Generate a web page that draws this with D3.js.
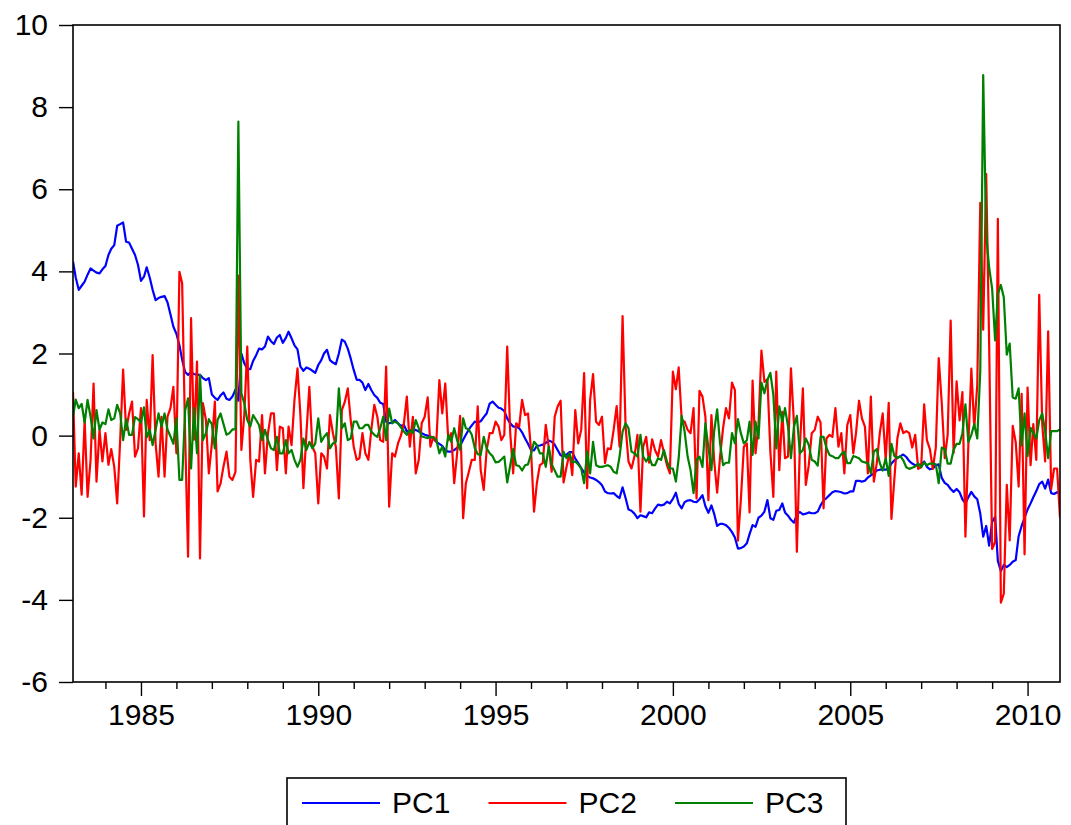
<!DOCTYPE html>
<html>
<head>
<meta charset="utf-8">
<script src="https://cdn.jsdelivr.net/npm/d3@7"></script>
<style>
  html, body { margin: 0; padding: 0; background: #fff; }
  svg { display: block; font-family: "Liberation Sans", Arial, sans-serif; }
</style>
</head>
<body>
<div id="chart"></div>
<script>
// monthly observations, 1983M02 .. 2010M12
const startMonth = new Date(1983, 1, 1);

const seriesNames = ["PC1", "PC2", "PC3"];
const seriesColors = ["#0000ff", "#ff0000", "#008000"];

const yTicks = [-6, -4, -2, 0, 2, 4, 6, 8, 10];
const yearLabels = [1985, 1990, 1995, 2000, 2005, 2010];

const pc1 = [
  4.24, 3.85, 3.55, 3.65, 3.75, 3.92, 4.07, 4.02, 3.97, 3.95,
  4.05, 4.13, 4.40, 4.55, 4.64, 5.11, 5.15, 5.19, 4.72, 4.70,
  4.55, 4.40, 4.16, 3.77, 3.87, 4.10, 3.85, 3.55, 3.30, 3.35,
  3.38, 3.40, 3.25, 2.95, 2.65, 2.48, 2.20, 1.85, 1.55, 1.48,
  1.55, 1.50, 1.48, 1.48, 1.40, 1.35, 1.40, 1.00, 0.92, 0.87,
  0.98, 1.05, 0.90, 0.87, 0.95, 1.12, 0.85, 2.00, 1.76, 1.62,
  1.62, 1.82, 1.96, 2.12, 2.10, 2.17, 2.41, 2.30, 2.23, 2.39,
  2.45, 2.26, 2.38, 2.53, 2.37, 2.20, 2.10, 1.68, 1.58, 1.66,
  1.63, 1.58, 1.53, 1.72, 1.84, 2.00, 2.09, 1.84, 1.78, 1.74,
  2.00, 2.34, 2.29, 2.12, 1.88, 1.60, 1.36, 1.36, 1.29, 1.11,
  1.26, 1.11, 0.99, 0.92, 0.80, 0.77, 0.34, 0.30, 0.32, 0.38,
  0.30, 0.24, 0.26, 0.10, 0.12, 0.13, 0.14, 0.10, 0.06, 0.02,
  0.00, -0.02, -0.08, -0.15, -0.20, -0.25, -0.36, -0.39, -0.39, -0.35,
  -0.30, -0.25, -0.10, 0.02, 0.15, 0.25, 0.34, 0.32, 0.35, 0.45,
  0.54, 0.78, 0.83, 0.75, 0.68, 0.66, 0.60, 0.42, 0.30, 0.22,
  0.22, 0.18, 0.08, -0.07, -0.20, -0.35, -0.36, -0.25, -0.24, -0.22,
  -0.18, -0.12, -0.15, -0.22, -0.35, -0.48, -0.51, -0.46, -0.40, -0.40,
  -0.56, -0.67, -0.79, -0.90, -0.98, -1.02, -1.04, -1.08, -1.13, -1.21,
  -1.36, -1.40, -1.41, -1.40, -1.47, -1.52, -1.26, -1.52, -1.80, -1.83,
  -1.90, -2.01, -1.94, -1.96, -1.99, -1.87, -1.89, -1.78, -1.68, -1.70,
  -1.68, -1.61, -1.65, -1.54, -1.39, -1.66, -1.77, -1.62, -1.58, -1.57,
  -1.61, -1.62, -1.55, -1.45, -1.72, -1.88, -1.70, -1.90, -2.20, -2.15,
  -2.15, -2.18, -2.25, -2.35, -2.48, -2.75, -2.74, -2.70, -2.62, -2.40,
  -2.18, -2.22, -2.00, -1.95, -1.85, -1.57, -2.01, -2.05, -1.83, -1.81,
  -1.65, -1.87, -1.95, -2.05, -2.12, -1.92, -1.86, -1.92, -1.90, -1.87,
  -1.89, -1.89, -1.85, -1.70, -1.58, -1.52, -1.45, -1.38, -1.35, -1.36,
  -1.38, -1.41, -1.40, -1.36, -1.36, -1.10, -1.10, -1.12, -1.10, -1.02,
  -0.97, -0.92, -0.85, -0.83, -0.83, -0.83, -0.80, -0.68, -0.60, -0.54,
  -0.50, -0.46, -0.52, -0.62, -0.68, -0.72, -0.72, -0.70, -0.63, -0.76,
  -0.82, -0.80, -0.72, -0.70, -1.03, -1.15, -1.20, -1.30, -1.37, -1.30,
  -1.38, -1.55, -1.65, -1.50, -1.37, -1.48, -1.55, -1.90, -2.46, -2.20,
  -2.68, -2.10, -1.98, -3.05, -3.30, -3.15, -3.20, -3.15, -3.07, -3.03,
  -2.45, -2.20, -2.00, -1.80, -1.65, -1.50, -1.35, -1.18, -1.12, -1.29,
  -1.07, -1.40, -1.42, -1.38, -1.40
];

const pc2 = [
  1.07, -1.24, -0.43, -1.44, 0.38, -1.49, -0.59, 1.27, -1.12, 0.14,
  -0.63, 0.06, -0.71, -0.33, -0.76, -1.65, -0.10, 1.61, 0.14, 0.54,
  0.83, -0.51, -0.31, 0.67, -1.97, 0.87, -0.11, 1.96, -0.20, -1.00,
  0.46, -1.00, 0.46, 0.67, 1.19, -0.43, 3.99, 3.71, 0.00, -2.95,
  2.86, -0.10, 1.80, -2.99, 0.79, 0.38, -0.92, -0.20, 0.83, -1.36,
  -1.16, -0.75, -0.39, -1.00, -1.08, -0.88, 3.90, -0.35, 0.50, 2.17,
  -0.59, -1.49, -0.59, -0.63, 0.50, -0.92, 0.06, 0.54, 0.54, -0.84,
  0.22, 0.18, -0.92, 0.22, -0.23, 0.87, 1.64, 0.50, -1.28, 0.06,
  1.19, -0.27, -0.43, -1.65, -0.43, -0.51, -0.80, 0.50, 0.06, -0.27,
  -1.53, 0.62, 0.82, 1.15, 0.38, -0.27, -0.59, -0.55, 0.06, -0.43,
  -0.59, 0.14, 0.75, 0.46, -0.11, -0.15, 1.68, -1.73, -0.43, -0.51,
  -0.19, 0.00, 0.30, 0.95, -0.27, 0.46, -0.92, -0.59, 0.30, 0.46,
  0.93, -0.27, -0.03, -0.15, 1.35, 0.54, 1.27, -0.11, 0.06, -1.16,
  -0.43, 0.48, -2.01, -1.16, -0.88, -0.59, -0.59, 0.71, -0.84, -1.32,
  -0.35, 0.06, 0.06, 0.34, 0.22, -0.11, 0.02, 2.17, 0.06, -0.92,
  0.30, 0.22, 0.87, 0.50, 0.54, -0.35, -1.85, -1.16, -0.72, -0.67,
  0.26, -0.27, -0.88, 0.46, 0.71, 0.85, -1.14, -0.76, -0.43, -0.96,
  0.62, -0.19, 0.14, 1.52, -1.28, 0.87, 1.50, 0.34, 0.26, 0.46,
  -0.67, -0.31, -0.33, 0.14, 0.72, -0.27, 2.91, 0.22, -0.63, -0.80,
  -0.51, 0.02, -1.85, -0.27, -0.03, -0.66, -0.09, -0.35, -0.51, -0.11,
  -0.41, -0.72, -0.92, 1.56, 1.13, 1.66, 0.38, 0.34, 0.14, 0.06,
  0.67, -1.53, 1.09, 0.95, 0.46, -1.57, 0.50, -0.60, -1.39, -0.51,
  0.18, 0.67, 0.42, 1.29, 1.11, -2.56, -1.57, -0.27, -0.19, -1.87,
  1.34, -0.43, 0.28, 2.07, 1.31, 1.37, -0.39, -1.49, 1.56, -0.84,
  0.58, -0.55, -0.51, 1.64, 0.30, -2.83, -0.27, 1.15, -1.20, -0.72,
  0.06, 0.14, 0.46, 0.32, -1.77, -0.07, 0.02, -0.03, 0.67, -0.27,
  0.06, -0.92, 0.26, 0.50, -0.43, 0.06, 0.85, 0.42, 0.22, -0.92,
  0.95, -1.12, -0.67, 0.06, 0.54, -0.59, 0.80, -2.03, -1.03, -0.07,
  0.30, 0.06, 0.11, 0.06, -0.29, 0.02, -0.81, -0.77, 0.76, -0.11,
  -0.33, -0.81, -0.29, 1.89, 0.80, -0.55, 0.02, 2.80, -0.42, 1.32,
  0.37, 1.06, -2.46, -0.24, 1.63, 0.19, 1.24, 5.67, 2.58, 6.37,
  2.28, -2.76, -2.59, 5.28, -4.07, -3.85, -1.20, -2.55, 0.24, -0.16,
  -1.24, 1.02, -2.89, 1.17, -0.72, 0.28, -0.59, 3.43, 0.28, -0.63,
  2.54, -1.30, -0.80, -0.80, -2.00
];

const pc3 = [
  0.46, 0.88, 0.67, 0.77, 0.32, 0.87, 0.46, -0.07, 0.62, 0.15,
  0.32, 0.28, 0.64, 0.38, 0.42, 0.75, 0.54, -0.11, 0.40, 0.02,
  0.02, 0.45, 0.40, 0.32, 0.69, -0.04, 0.14, -0.23, 0.14, 0.54,
  0.22, 0.54, 0.15, -0.02, -0.20, 0.42, -1.08, -1.08, 0.62, 0.91,
  -0.80, 0.67, -0.43, 1.48, -0.11, 0.06, 0.40, 0.28, -0.31, 0.38,
  0.54, 0.28, 0.02, 0.06, 0.15, 0.15, 7.65, 1.03, 0.79, 0.38,
  0.22, 0.50, 0.38, 0.26, -0.11, 0.14, -0.11, -0.31, -0.35, -0.03,
  -0.43, -0.43, -0.11, -0.43, -0.35, -0.59, -0.76, -0.59, -0.07, -0.35,
  -0.15, -0.31, -0.19, 0.42, -0.15, -0.03, 0.06, -0.31, -0.19, -0.15,
  1.15, 0.18, 0.30, -0.11, -0.07, 0.34, 0.34, 0.18, 0.18, 0.26,
  0.26, 0.10, 0.02, -0.03, 0.18, 0.46, -0.11, 0.66, 0.30, 0.34,
  0.30, 0.20, 0.10, 0.02, 0.14, 0.06, 0.38, 0.18, -0.02, -0.04,
  -0.06, -0.03, -0.04, -0.10, -0.43, -0.27, -0.51, 0.02, -0.15, 0.18,
  -0.11, -0.35, 0.42, 0.18, 0.15, 0.02, -0.30, -0.45, -0.47, -0.03,
  -0.31, -0.43, -0.50, -0.65, -0.64, -0.58, -0.51, -1.14, -0.72, -0.33,
  -0.72, -0.74, -0.85, -0.72, -0.70, -0.45, -0.15, -0.23, -0.43, -0.43,
  -0.76, -0.27, -0.70, -0.85, -1.00, -1.00, -0.39, -0.55, -0.43, -0.65,
  -0.63, -0.70, -0.80, -1.16, -0.39, -0.92, -0.15, -0.72, -0.76, -0.76,
  -0.74, -0.72, -0.76, -0.88, -0.92, -0.51, 0.10, 0.30, 0.18, -0.39,
  -0.43, -0.51, 0.02, -0.51, -0.63, -0.51, -0.72, -0.72, -0.55, -0.59,
  -0.35, -0.63, -0.80, -0.80, -1.12, -0.55, 0.48, 0.10, -0.51, -0.84,
  -1.40, -0.59, -0.51, -0.76, 0.30, -0.30, -0.84, 0.10, 0.64, -0.19,
  -0.72, -0.66, -0.66, 0.06, -0.19, 0.40, 0.06, -0.19, -0.11, 0.34,
  -0.47, 0.34, -0.07, 1.29, 1.03, 1.36, 1.53, 0.99, -0.31, 0.71,
  0.34, 0.67, 0.22, -0.55, 0.22, 0.48, -0.43, -0.35, -0.07, -0.23,
  -0.59, -0.63, -0.73, -0.03, -0.03, -0.30, -0.47, -0.50, -0.55, -0.55,
  -0.45, -0.39, -0.67, -0.67, -0.50, -0.52, -0.55, -0.63, -0.65, -0.67,
  -0.92, -0.39, -0.33, -0.67, -0.85, -0.55, -0.98, -0.20, -0.50, -0.55,
  -0.50, -0.60, -0.77, -0.81, -0.78, -0.75, -0.68, -0.77, -0.65, -0.72,
  -0.68, -0.68, -0.70, -1.16, -0.29, -0.33, -0.68, -0.68, -0.35, -0.20,
  -0.20, 0.06, 0.76, -0.16, 0.02, 0.28, -0.07, 1.58, 8.78, 4.89,
  4.10, 3.58, 2.32, 3.45, 3.67, 3.37, 1.97, 2.24, 0.93, 0.90,
  1.15, -0.24, 0.54, -0.50, 0.19, 0.06, -0.07, 0.37, 0.54, 0.11,
  -0.55, 0.11, 0.11, 0.11, 0.15
];

const seriesValues = [pc1, pc2, pc3];

const dimensions = {
  width: 1071,
  height: 825,
  margin: { top: 25, right: 11, bottom: 143, left: 73 },
  boundedWidth: 987,
  boundedHeight: 657,
};

const fontSize = 30;
const dates = pc1.map((d, i) => d3.timeMonth.offset(startMonth, i));

const svg = d3.select("#chart")
  .append("svg")
  .attr("width", dimensions.width)
  .attr("height", dimensions.height);

const bounds = svg.append("g")
  .attr("transform", `translate(${dimensions.margin.left},${dimensions.margin.top})`);

const xScale = d3.scaleTime()
  .domain([dates[0], dates[dates.length - 1]])
  .range([0, dimensions.boundedWidth]);

const yScale = d3.scaleLinear()
  .domain([-6, 10])
  .range([dimensions.boundedHeight, 0]);

bounds.append("clipPath")
  .attr("id", "plot-clip")
  .append("rect")
  .attr("width", dimensions.boundedWidth)
  .attr("height", dimensions.boundedHeight);

// series lines
const lineGenerator = d3.line()
  .x((d, i) => xScale(dates[i]))
  .y((d) => yScale(d));

bounds.append("g")
  .attr("clip-path", "url(#plot-clip)")
  .selectAll("path")
  .data(seriesValues)
  .join("path")
  .attr("d", (d) => lineGenerator(d))
  .attr("fill", "none")
  .attr("stroke", (d, i) => seriesColors[i])
  .attr("stroke-width", 2.2)
  .attr("stroke-linejoin", "round");

// frame
bounds.append("rect")
  .attr("width", dimensions.boundedWidth)
  .attr("height", dimensions.boundedHeight)
  .attr("fill", "none")
  .attr("stroke", "#000")
  .attr("stroke-width", 1.6);

// y axis (plain hyphen for negatives, like the original)
const yAxis = bounds.append("g")
  .call(d3.axisLeft(yScale)
    .tickValues(yTicks)
    .tickSize(14)
    .tickPadding(11)
    .tickFormat((d) => String(d)));
yAxis.select(".domain").remove();
yAxis.selectAll("line").attr("stroke-width", 1.4);
yAxis.selectAll("text")
  .attr("font-size", fontSize)
  .attr("font-family", "Liberation Sans, Arial, sans-serif")
  .attr("fill", "#000");

// x axis, a tick each year, long ticks and labels every five years
const xAxis = bounds.append("g")
  .attr("transform", `translate(0,${dimensions.boundedHeight})`)
  .call(d3.axisBottom(xScale)
    .ticks(d3.timeYear.every(1))
    .tickSize(7)
    .tickFormat((d) => yearLabels.includes(d.getFullYear()) ? d.getFullYear() : ""));
xAxis.select(".domain").remove();
xAxis.selectAll(".tick line")
  .attr("stroke-width", 1.4)
  .attr("y2", (d) => yearLabels.includes(d.getFullYear()) ? 14 : 7);
xAxis.selectAll(".tick text")
  .attr("y", 22)
  .attr("font-size", fontSize)
  .attr("font-family", "Liberation Sans, Arial, sans-serif")
  .attr("fill", "#000");

// legend
const legend = svg.append("g").attr("transform", "translate(287,778)");
legend.append("rect")
  .attr("width", 559)
  .attr("height", 70)
  .attr("fill", "none")
  .attr("stroke", "#000")
  .attr("stroke-width", 1.6);

const legendItems = legend.selectAll("g.item")
  .data(seriesNames)
  .join("g")
  .attr("class", "item")
  .attr("transform", (d, i) => `translate(${15 + i * 186.5},25)`);

legendItems.append("line")
  .attr("x1", 0)
  .attr("x2", 78)
  .attr("stroke", (d, i) => seriesColors[i])
  .attr("stroke-width", 2.2);

legendItems.append("text")
  .attr("x", 90)
  .attr("y", 10)
  .attr("font-size", fontSize)
  .attr("fill", "#000")
  .text((d) => d);
</script>
</body>
</html>
